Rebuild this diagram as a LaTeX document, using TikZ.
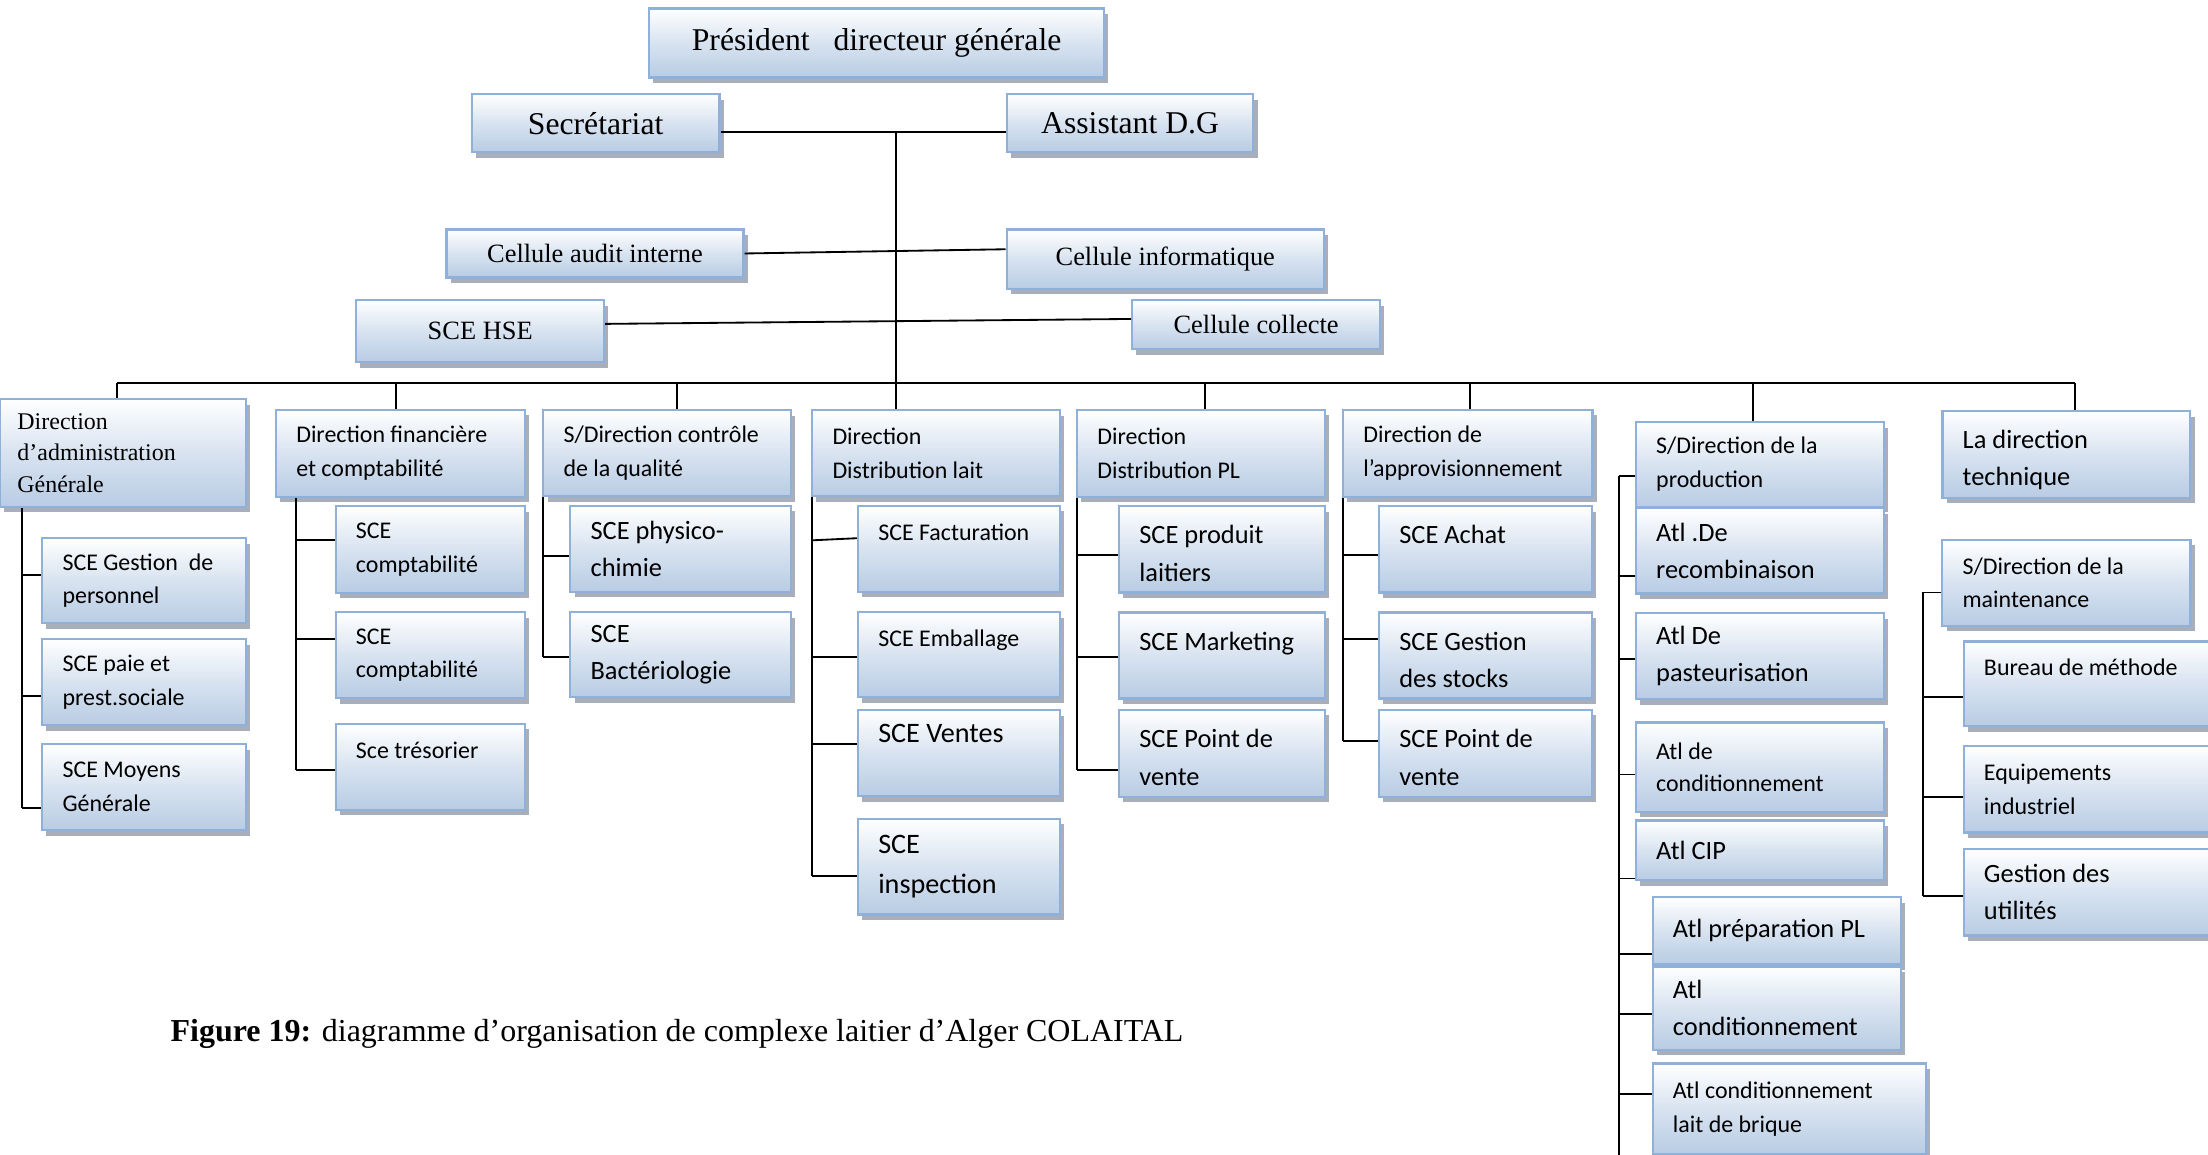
\documentclass[tikz,border=0pt]{standalone}
\usepackage{fontspec}
\setmainfont{Carlito}
\newfontfamily\tnr{Liberation Serif}
\usetikzlibrary{shadows}
\definecolor{boxline}{RGB}{143,176,217}
\definecolor{boxblue}{RGB}{184,204,228}
\definecolor{boxshadow}{RGB}{168,174,186}

\begin{document}
\begin{tikzpicture}[x=1pt, y=-1pt,
    box/.style={draw=boxline, line width=1.6pt, top color=white, bottom color=boxblue, middle color=boxblue!55!white, inner sep=0pt,
        drop shadow={shadow xshift=3pt, shadow yshift=-4pt, fill=boxshadow, opacity=1}},
    tbox/.style={box, font=\tnr\fontsize{22.5}{27}\selectfont},
    cbox/.style={box, font=\tnr\fontsize{18.75}{24}\selectfont},
    lbl/.style={anchor=west, xshift=15pt, align=left, inner sep=0pt, font=\fontsize{17}{24}\selectfont},
    lblb/.style={lbl, font=\fontsize{18.75}{26.5}\selectfont},
    lblc/.style={lbl, font=\fontsize{20}{28}\selectfont},
    link/.style={line width=1.3pt}]
    \useasboundingbox (0,0) rectangle (1568,820);

    % Direction generale
    \node[tbox, minimum width=323, minimum height=49] (pdg) at (622.5,30.5) {Président\ \ \ directeur générale};
    \node[tbox, minimum width=176, minimum height=41] (sec) at (423,87.5) {Secrétariat};
    \node[tbox, minimum width=175, minimum height=41] (adg) at (802.5,87.5) {Assistant D.G};
    \node[cbox, minimum width=211, minimum height=34] (audit) at (422.5,180) {Cellule audit interne};
    \node[cbox, minimum width=225, minimum height=42] (info) at (827.5,184) {Cellule informatique};
    \node[cbox, minimum width=176, minimum height=44] (hse) at (341,235) {SCE HSE};
    \node[cbox, minimum width=176, minimum height=35] (collecte) at (892,230.5) {Cellule collecte};

    % Directions
    \node[box, minimum width=174.5, minimum height=76.5, label={[lbl, xshift=-2, font=\tnr\fontsize{17}{22.5}\selectfont]west:{Direction\\d’administration\\Générale}}] (dag) at (87.25,321.6) {};
    \node[box, minimum width=177, minimum height=61.7, label={[lbl]west:{Direction financière\\et comptabilité}}] (dfc) at (284.5,321.9) {};
    \node[box, minimum width=175.8, minimum height=61, label={[lbl]west:{S/Direction contrôle\\de la qualité}}] (sdq) at (473.7,321.9) {};
    \node[box, minimum width=176, minimum height=61, label={[lbl]west:{Direction\\Distribution lait}}] (ddl) at (664.8,321.9) {};
    \node[box, minimum width=176, minimum height=61.7, label={[lbl]west:{Direction\\Distribution PL}}] (dpl) at (852.9,321.9) {};
    \node[box, minimum width=177, minimum height=61.7, label={[lbl]west:{Direction de\\l’approvisionnement}}] (dap) at (1042.3,321.9) {};
    \node[box, minimum width=176.3, minimum height=60, label={[lbl]west:{S/Direction de la\\production}}] (sdp) at (1249.9,329.8) {};
    \node[box, minimum width=176, minimum height=61.6, label={[lblb, yshift=-4]west:{La direction\\technique}}] (ldt) at (1467.4,322.6) {};

    % Services
    \node[box, minimum width=144.5, minimum height=60.5, label={[lbl]west:{SCE Gestion~~de\\personnel}}] (c1a) at (102.25,412.25) {};
    \node[box, minimum width=144.5, minimum height=61, label={[lbl]west:{SCE paie et\\prest.sociale}}] (c1b) at (102.25,484.5) {};
    \node[box, minimum width=144.5, minimum height=61, label={[lbl]west:{SCE Moyens\\Générale}}] (c1c) at (102.25,559) {};

    \node[box, minimum width=134.5, minimum height=61.6, label={[lbl]west:{SCE\\comptabilité}}] (c2a) at (305.65,390.2) {};
    \node[box, minimum width=134.5, minimum height=61.1, label={[lbl]west:{SCE\\comptabilité}}] (c2b) at (305.65,465.25) {};
    \node[box, minimum width=134.5, minimum height=61, label={[lbl]west:{Sce trésorier\\\mbox{}}}] (c2c) at (305.65,544.5) {};

    \node[box, minimum width=156.6, minimum height=61, label={[lblb]west:{SCE physico-\\chimie}}] (c3a) at (483.3,389.7) {};
    \node[box, minimum width=156.6, minimum height=60.3, label={[lblb]west:{SCE\\Bactériologie}}] (c3b) at (483.3,464.9) {};

    \node[box, minimum width=143.6, minimum height=61, label={[lbl]west:{SCE Facturation\\\mbox{}}}] (c4a) at (681.1,389.7) {};
    \node[box, minimum width=143.6, minimum height=60.3, label={[lbl]west:{SCE Emballage\\\mbox{}}}] (c4b) at (681.1,464.9) {};
    \node[box, minimum width=143.6, minimum height=60.9, label={[lblc]west:{SCE Ventes\\\mbox{}}}] (c4c) at (681.1,534.85) {};
    \node[box, minimum width=143.6, minimum height=68, label={[lblc]west:{SCE\\inspection}}] (c4d) at (681.1,615.35) {};

    \node[box, minimum width=146.3, minimum height=61.3, label={[lblb, yshift=-3]west:{SCE produit\\laitiers}}] (c5a) at (867.85,390.05) {};
    \node[box, minimum width=146.3, minimum height=61.1, label={[lblb, yshift=-3]west:{SCE Marketing\\\mbox{}}}] (c5b) at (867.85,465.45) {};
    \node[box, minimum width=146.3, minimum height=61.8, label={[lblb, yshift=-3]west:{SCE Point de\\vente}}] (c5c) at (867.85,534.9) {};

    \node[box, minimum width=151.4, minimum height=61.3, label={[lblb, yshift=-3]west:{SCE Achat\\\mbox{}}}] (c6a) at (1055,390.05) {};
    \node[box, minimum width=151.4, minimum height=61.1, label={[lblb, yshift=-3]west:{SCE Gestion\\des stocks}}] (c6b) at (1055,465.45) {};
    \node[box, minimum width=151.4, minimum height=61.8, label={[lblb, yshift=-3]west:{SCE Point de\\vente}}] (c6c) at (1055,534.9) {};

    \node[box, minimum width=176.3, minimum height=60.6, label={[lblb]west:{Atl .De\\recombinaison}}] (c7a) at (1249.85,391.1) {};
    \node[box, minimum width=176.3, minimum height=61.1, label={[lblb]west:{Atl De\\pasteurisation}}] (c7b) at (1249.85,465.95) {};
    \node[box, minimum width=176.3, minimum height=63.4, label={[lbl, font=\fontsize{17}{23}\selectfont]west:{Atl de\\conditionnement}}] (c7c) at (1249.85,544.7) {};
    \node[box, minimum width=176.3, minimum height=42.3, label={[lblb]west:{Atl CIP}}] (c7d) at (1249.85,603.85) {};
    \node[box, minimum width=176.2, minimum height=47.9, label={[lblb]west:{Atl préparation PL}}] (c7e) at (1261.7,660.95) {};
    \node[box, minimum width=176.2, minimum height=59.2, label={[lblb]west:{Atl\\conditionnement}}] (c7f) at (1261.7,715.9) {};
    \node[box, minimum width=194.2, minimum height=64.2, label={[lbl]west:{Atl conditionnement\\lait de brique}}] (c7g) at (1270.7,787.4) {};

    \node[box, minimum width=176.2, minimum height=61, label={[lbl]west:{S/Direction de la\\maintenance}}] (smt) at (1467.4,413.8) {};
    \node[box, minimum width=176, minimum height=60.3, label={[lbl]west:{Bureau de méthode\\\mbox{}}}] (c8a) at (1482.5,485.65) {};
    \node[box, minimum width=176, minimum height=61.4, label={[lbl]west:{Equipements\\industriel}}] (c8b) at (1482.5,560.5) {};
    \node[box, minimum width=176, minimum height=61.6, label={[lblb]west:{Gestion des\\utilités}}] (c8c) at (1482.5,633.6) {};

    % Caption
    \node[anchor=west, inner sep=0pt, font=\tnr\fontsize{22.7}{27}\selectfont] (cap) at (121,734.5) {\textbf{Figure 19:} diagramme d’organisation de complexe laitier d’Alger COLAITAL};

    % Trunk and bus
    \coordinate (top) at (636,93.5);
    \coordinate (b1) at (83,272);
    \coordinate (b2) at (281,272);
    \coordinate (b3) at (481,272);
    \coordinate (b4) at (636,272);
    \coordinate (b5) at (856,272);
    \coordinate (b6) at (1044,272);
    \coordinate (b7) at (1245,272);
    \coordinate (b8) at (1473.7,272);
    \draw[link] ([yshift=-6]sec.east) -- ([yshift=-6]adg.west);
    \draw[link] (top) -- (b4);
    \draw[link] (audit.east) -- ([yshift=7]info.west);
    \draw[link] ([yshift=5]hse.east) -- ([yshift=4]collecte.west);
    \draw[link] (b1) -- (b8);
    \draw[link] (b1) -- (b1 |- dag.north);
    \draw[link] (b2) -- (b2 |- dfc.north);
    \draw[link] (b3) -- (b3 |- sdq.north);
    \draw[link] (b4) -- (b4 |- ddl.north);
    \draw[link] (b5) -- (b5 |- dpl.north);
    \draw[link] (b6) -- (b6 |- dap.north);
    \draw[link] (b7) -- (b7 |- sdp.north);
    \draw[link] (b8) -- (b8 |- ldt.north);

    % Spines
    \coordinate (s1) at (15.7,0);
    \coordinate (s2) at (210,0);
    \coordinate (s3) at (385.8,0);
    \coordinate (s4) at (576.7,0);
    \coordinate (s5) at (764.8,0);
    \coordinate (s6) at (953.9,0);
    \coordinate (s7) at (1149.6,0);
    \coordinate (s8) at (1365.8,0);
    \coordinate (s7end) at (1149.6,820);
    \draw[link] (s1 |- dag.south) -- ([yshift=-15]c1c.west -| s1);
    \draw[link] (s2 |- dfc.south) -- ([yshift=-2.5]c2c.west -| s2);
    \draw[link] (s3 |- sdq.south) -- ([yshift=-1.7]c3b.west -| s3);
    \draw[link] (s4 |- ddl.south) -- ([yshift=-7]c4d.west -| s4);
    \draw[link] (s5 |- dpl.south) -- ([yshift=-12]c5c.west -| s5);
    \draw[link] (s6 |- dap.south) -- ([yshift=8.9]c6c.west -| s6);
    \draw[link] ([yshift=-8]sdp.west -| s7) -- (s7end);
    \draw[link] ([yshift=-6.9]smt.west -| s8) -- ([yshift=-2.6]c8c.west -| s8);

    % Branches
    \draw[link] ([yshift=4]c1a.west -| s1) -- ([yshift=4]c1a.west);
    \draw[link] ([yshift=-10]c1b.west -| s1) -- ([yshift=-10]c1b.west);
    \draw[link] ([yshift=-15]c1c.west -| s1) -- ([yshift=-15]c1c.west);
    \draw[link] ([yshift=6.7]c2a.west -| s2) -- ([yshift=6.7]c2a.west);
    \draw[link] ([yshift=11.6]c2b.west -| s2) -- ([yshift=11.6]c2b.west);
    \draw[link] ([yshift=-2.5]c2c.west -| s2) -- ([yshift=-2.5]c2c.west);
    \draw[link] ([yshift=-4.9]c3a.west -| s3) -- ([yshift=-4.9]c3a.west);
    \draw[link] ([yshift=-1.7]c3b.west -| s3) -- ([yshift=-1.7]c3b.west);
    \draw[link] ([yshift=6]c4a.west -| s4) -- ([yshift=7.5]c4a.west);
    \draw[link] ([yshift=-1.7]c4b.west -| s4) -- ([yshift=-1.7]c4b.west);
    \draw[link] ([yshift=6.8]c4c.west -| s4) -- ([yshift=6.8]c4c.west);
    \draw[link] ([yshift=-7]c4d.west -| s4) -- ([yshift=-7]c4d.west);
    \draw[link] ([yshift=-4.2]c5a.west -| s5) -- ([yshift=-4.2]c5a.west);
    \draw[link] ([yshift=-1.3]c5b.west -| s5) -- ([yshift=-1.3]c5b.west);
    \draw[link] ([yshift=-12]c5c.west -| s5) -- ([yshift=-12]c5c.west);
    \draw[link] ([yshift=-4.2]c6a.west -| s6) -- ([yshift=-4.2]c6a.west);
    \draw[link] ([yshift=11.6]c6b.west -| s6) -- ([yshift=11.6]c6b.west);
    \draw[link] ([yshift=8.9]c6c.west -| s6) -- ([yshift=8.9]c6c.west);
    \draw[link] ([yshift=-8]sdp.west -| s7) -- ([yshift=-8]sdp.west);
    \draw[link] ([yshift=-17.9]c7a.west -| s7) -- ([yshift=-17.9]c7a.west);
    \draw[link] ([yshift=-2]c7b.west -| s7) -- ([yshift=-2]c7b.west);
    \draw[link] ([yshift=-5.3]c7c.west -| s7) -- ([yshift=-5.3]c7c.west);
    \draw[link] ([yshift=-20]c7d.west -| s7) -- ([yshift=-20]c7d.west);
    \draw[link] ([yshift=-16.8]c7e.west -| s7) -- ([yshift=-16.8]c7e.west);
    \draw[link] ([yshift=-4.2]c7f.west -| s7) -- ([yshift=-4.2]c7f.west);
    \draw[link] ([yshift=10.3]c7g.west -| s7) -- ([yshift=10.3]c7g.west);
    \draw[link] ([yshift=-6.9]smt.west -| s8) -- ([yshift=-6.9]smt.west);
    \draw[link] ([yshift=-9.6]c8a.west -| s8) -- ([yshift=-9.6]c8a.west);
    \draw[link] ([yshift=-5.3]c8b.west -| s8) -- ([yshift=-5.3]c8b.west);
    \draw[link] ([yshift=-2.6]c8c.west -| s8) -- ([yshift=-2.6]c8c.west);
\end{tikzpicture}
\end{document}
